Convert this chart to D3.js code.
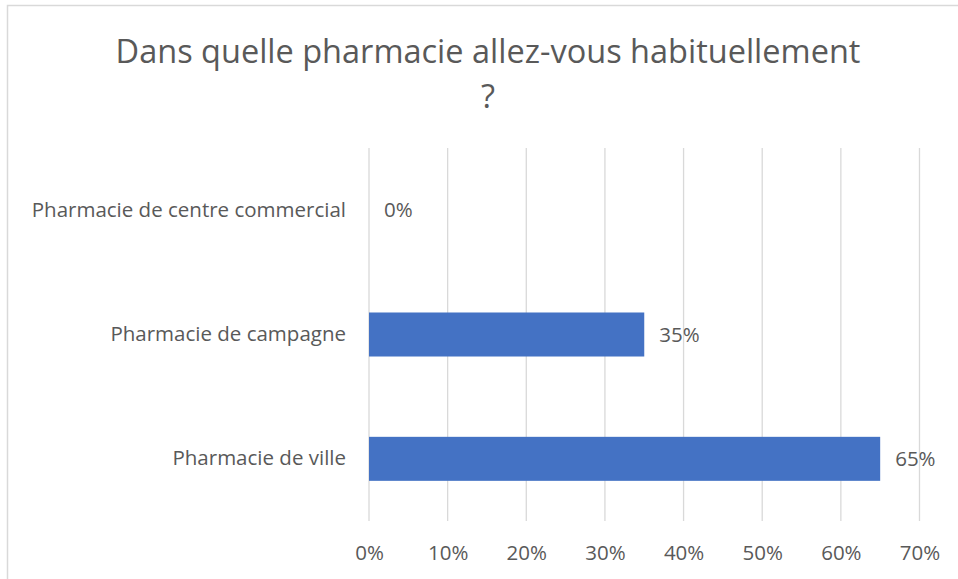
<!DOCTYPE html>
<html><head><meta charset="utf-8">
<script src="https://cdn.jsdelivr.net/npm/d3@7"></script>
<style>body{margin:0;background:#fff;} svg{display:block;}</style>
</head><body>
<svg id="c" width="958" height="579"></svg>
<script>
const categories = ["Pharmacie de centre commercial", "Pharmacie de campagne", "Pharmacie de ville"];
const values = [0, 0.35, 0.65];
const valueLabels = ["0%", "35%", "65%"];
const ticks = [0, 0.1, 0.2, 0.3, 0.4, 0.5, 0.6, 0.7];
const titleLines = ["Dans quelle pharmacie allez-vous habituellement", "?"];

const svg = d3.select("#c");
const font = "'Open Sans', sans-serif";
const textColor = "#595959";
const labelSize = 20.5;

// chart border (only top and left visible)
svg.append("rect").attr("x", 7.5).attr("y", 5.5).attr("width", 1000).attr("height", 1000)
  .attr("fill", "none").attr("stroke", "#d9d9d9").attr("stroke-width", 1.5);

const x = d3.scaleLinear().domain([0, 0.7]).range([369, 919.5]);
const y = d3.scaleBand().domain(categories).range([148, 521]).paddingInner(0.646).paddingOuter(0.323);

// gridlines
svg.append("g").selectAll("line").data(ticks).join("line")
  .attr("x1", d => x(d)).attr("x2", d => x(d)).attr("y1", 148).attr("y2", 521)
  .attr("stroke", "#d9d9d9").attr("stroke-width", 1.3);

// x axis labels via d3 axis
const xAxis = d3.axisBottom(x).tickValues(ticks).tickFormat(d3.format(".0%")).tickSize(0).tickPadding(0);
const gx = svg.append("g").attr("transform", "translate(0,560)").call(xAxis);
gx.select(".domain").remove();
gx.selectAll("text").attr("font-family", font).attr("font-size", labelSize).attr("fill", textColor).attr("dy", "0");

// category axis
const yAxis = d3.axisLeft(y).tickSize(0).tickPadding(23);
const gy = svg.append("g").attr("transform", "translate(369,0)").call(yAxis);
gy.select(".domain").remove();
gy.selectAll("text").attr("font-family", font).attr("font-size", labelSize).attr("fill", textColor);

// bars
svg.append("g").selectAll("rect").data(values).join("rect")
  .attr("x", x(0)).attr("y", (d, i) => y(categories[i]))
  .attr("width", d => x(d) - x(0)).attr("height", y.bandwidth())
  .attr("fill", "#4472C4");

// value labels
svg.append("g").selectAll("text").data(values).join("text")
  .attr("x", d => x(d) + 15).attr("y", (d, i) => y(categories[i]) + y.bandwidth() / 2)
  .attr("dy", "0.35em").attr("font-family", font).attr("font-size", labelSize).attr("fill", textColor)
  .text((d, i) => valueLabels[i]);

// title
svg.append("g").selectAll("text").data(titleLines).join("text")
  .attr("x", 488).attr("y", (d, i) => 63 + i * 45)
  .attr("text-anchor", "middle").attr("font-family", font).attr("font-size", 32.5).attr("fill", textColor)
  .text(d => d);
</script>
</body></html>
